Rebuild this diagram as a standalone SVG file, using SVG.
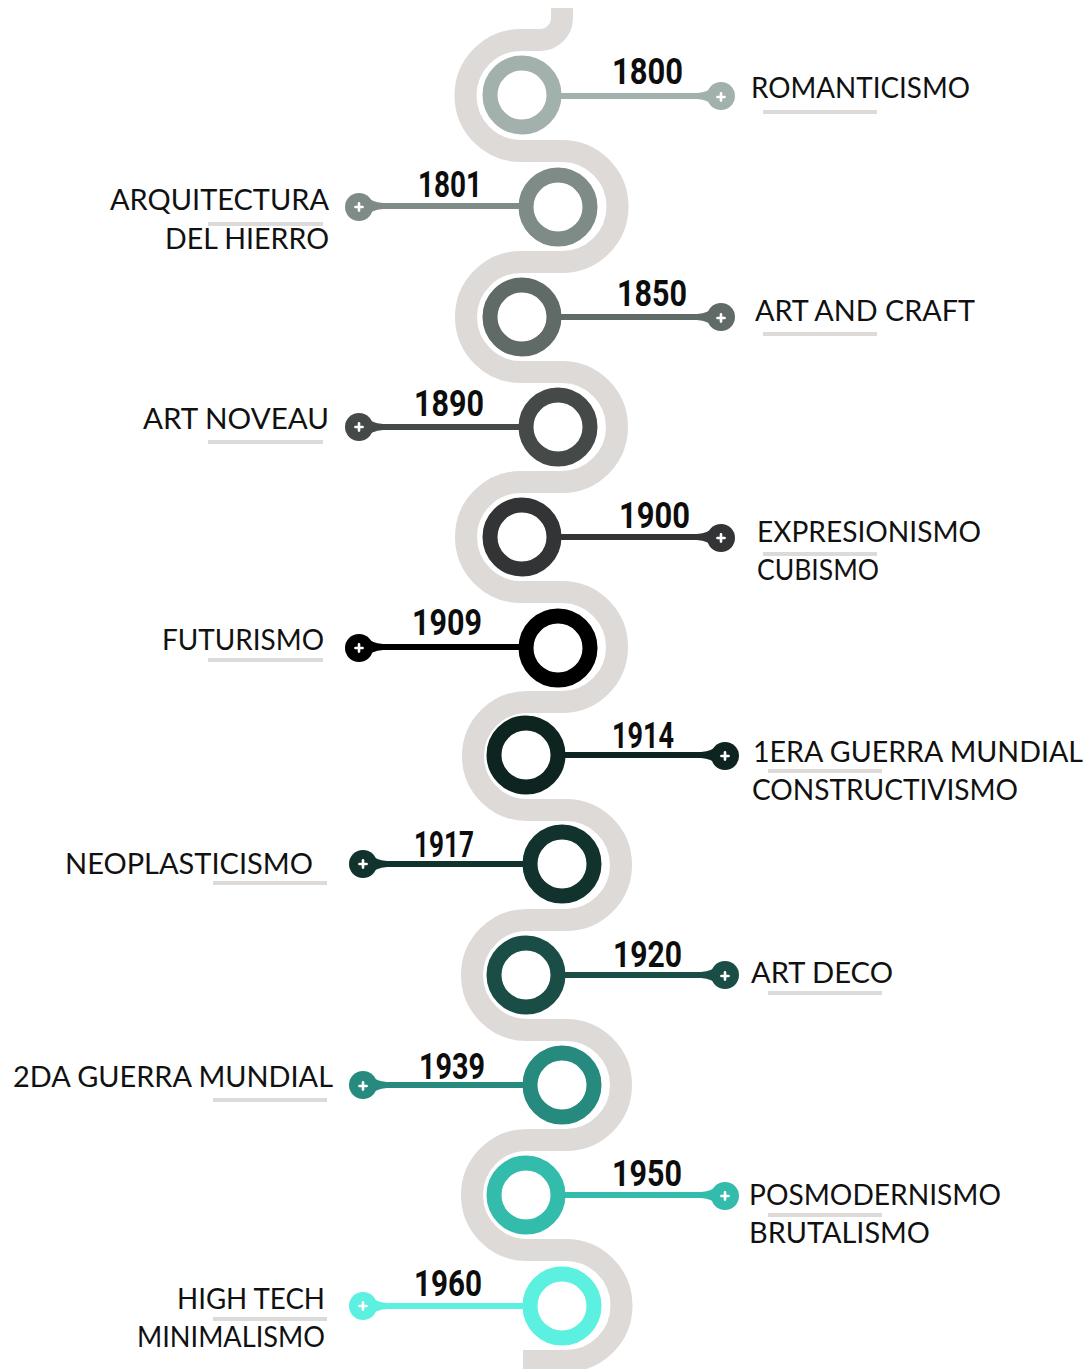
<svg xmlns="http://www.w3.org/2000/svg" width="1090" height="1369" viewBox="0 0 1090 1369">
<style>
.track{fill:none;stroke:#dedad8;stroke-width:22;stroke-linejoin:round}
.ring{fill:none;stroke-width:15}
.yr{font-family:Roboto,"Liberation Sans",sans-serif;font-weight:700;font-size:37px;fill:#0d0d0d}
.lb{font-family:Lato,"Noto Sans",sans-serif;font-size:28px;fill:#111}
.ul{fill:#dedad8}
.ln{stroke-width:6;fill:none}
.plus{stroke:#fff;stroke-width:2.6;stroke-linecap:round}
</style>
<defs>
<g id="pl"><line class="plus" x1="-3.6" y1="0" x2="3.6" y2="0"/><line class="plus" x1="0" y1="-3.6" x2="0" y2="3.6"/></g>
</defs>
<rect width="1090" height="1369" fill="#fff"/>
<g id="track">
<path class="track" d="M 562 8 L 562 18 A 22 22 0 0 1 540 40 L 521 40 A 55.5 55.5 0 0 0 521 151 L 562 151 A 55.5 55.5 0 0 1 562 262 L 521 262 A 55 55 0 0 0 521 372 L 562 372 A 55 55 0 0 1 562 482 L 521 482 A 55 55 0 0 0 521 592 L 562 592 A 55 55 0 0 1 562 702 L 527 702 A 54 54 0 0 0 527 810 L 566 810 A 55 55 0 0 1 566 920 L 527 920 A 55 55 0 0 0 527 1030 L 566 1030 A 55 55 0 0 1 566 1140 L 527 1140 A 55 55 0 0 0 527 1250 L 566 1250 A 55.5 55.5 0 0 1 566 1361 L 523 1361"/>
</g>
<g id="connectors">
<line class="ln" stroke="#a3b1ad" x1="550" y1="96" x2="710" y2="96"/>
<path fill="#a3b1ad" d="M 697 93 Q 709 92 713 86 L 713 106 Q 709 100 697 99 Z"/>
<line class="ln" stroke="#7e8b87" x1="370" y1="206" x2="530" y2="206"/>
<path fill="#7e8b87" d="M 383 203 Q 371 202 367 196 L 367 216 Q 371 210 383 209 Z"/>
<line class="ln" stroke="#606a67" x1="550" y1="317" x2="710" y2="317"/>
<path fill="#606a67" d="M 697 314 Q 709 313 713 307 L 713 327 Q 709 321 697 320 Z"/>
<line class="ln" stroke="#454a49" x1="370" y1="427" x2="530" y2="427"/>
<path fill="#454a49" d="M 383 424 Q 371 423 367 417 L 367 437 Q 371 431 383 430 Z"/>
<line class="ln" stroke="#323436" x1="550" y1="537" x2="710" y2="537"/>
<path fill="#323436" d="M 697 534 Q 709 533 713 527 L 713 547 Q 709 541 697 540 Z"/>
<line class="ln" stroke="#000" x1="370" y1="647" x2="530" y2="647"/>
<path fill="#000" d="M 383 644 Q 371 643 367 637 L 367 657 Q 371 651 383 650 Z"/>
<line class="ln" stroke="#0e2420" x1="554" y1="755" x2="714" y2="755"/>
<path fill="#0e2420" d="M 701 752 Q 713 751 717 745 L 717 765 Q 713 759 701 758 Z"/>
<line class="ln" stroke="#11322d" x1="374" y1="864" x2="534" y2="864"/>
<path fill="#11322d" d="M 387 861 Q 375 860 371 854 L 371 874 Q 375 868 387 867 Z"/>
<line class="ln" stroke="#1a4d46" x1="554" y1="975" x2="714" y2="975"/>
<path fill="#1a4d46" d="M 701 972 Q 713 971 717 965 L 717 985 Q 713 979 701 978 Z"/>
<line class="ln" stroke="#268b7e" x1="374" y1="1085" x2="534" y2="1085"/>
<path fill="#268b7e" d="M 387 1082 Q 375 1081 371 1075 L 371 1095 Q 375 1089 387 1088 Z"/>
<line class="ln" stroke="#33bcab" x1="554" y1="1195" x2="714" y2="1195"/>
<path fill="#33bcab" d="M 701 1192 Q 713 1191 717 1185 L 717 1205 Q 713 1199 701 1198 Z"/>
<line class="ln" stroke="#5cf0e1" x1="374" y1="1306" x2="534" y2="1306"/>
<path fill="#5cf0e1" d="M 387 1303 Q 375 1302 371 1296 L 371 1316 Q 375 1310 387 1309 Z"/>
</g>
<g id="n1800">
<circle class="ring" stroke="#a3b1ad" cx="522" cy="95" r="32"/>
<circle fill="#a3b1ad" cx="721" cy="96" r="14"/><use href="#pl" x="721" y="97"/>
<text class="yr" x="612" y="84" textLength="71" lengthAdjust="spacingAndGlyphs">1800</text>
<rect class="ul" x="763" y="110" width="114" height="4"/>
<text class="lb" x="751" y="98" textLength="219" lengthAdjust="spacingAndGlyphs">ROMANTICISMO</text>
</g>
<g id="n1801">
<circle class="ring" stroke="#7e8b87" cx="558" cy="207" r="32"/>
<circle fill="#7e8b87" cx="359" cy="207" r="14"/><use href="#pl" x="359" y="207"/>
<text class="yr" x="418" y="197" textLength="64" lengthAdjust="spacingAndGlyphs">1801</text>
<rect class="ul" x="208" y="222" width="115" height="4"/>
<text class="lb" x="110" y="210" textLength="219" lengthAdjust="spacingAndGlyphs">ARQUITECTURA</text>
<text class="lb" x="165" y="249" textLength="164" lengthAdjust="spacingAndGlyphs">DEL HIERRO</text>
</g>
<g id="n1850">
<circle class="ring" stroke="#606a67" cx="522" cy="317" r="32"/>
<circle fill="#606a67" cx="721" cy="317" r="14"/><use href="#pl" x="721" y="318"/>
<text class="yr" x="617" y="306" textLength="70" lengthAdjust="spacingAndGlyphs">1850</text>
<rect class="ul" x="763" y="332" width="114" height="4"/>
<text class="lb" x="755" y="321" textLength="220" lengthAdjust="spacingAndGlyphs">ART AND CRAFT</text>
</g>
<g id="n1890">
<circle class="ring" stroke="#454a49" cx="558" cy="427" r="32"/>
<circle fill="#454a49" cx="359" cy="427" r="14"/><use href="#pl" x="359" y="427"/>
<text class="yr" x="414" y="416" textLength="70" lengthAdjust="spacingAndGlyphs">1890</text>
<rect class="ul" x="208" y="440" width="115" height="4"/>
<text class="lb" x="143" y="429" textLength="186" lengthAdjust="spacingAndGlyphs">ART NOVEAU</text>
</g>
<g id="n1900">
<circle class="ring" stroke="#323436" cx="522" cy="537" r="32"/>
<circle fill="#323436" cx="721" cy="538" r="14"/><use href="#pl" x="721" y="538"/>
<text class="yr" x="619" y="528" textLength="71" lengthAdjust="spacingAndGlyphs">1900</text>
<rect class="ul" x="763" y="552" width="114" height="4"/>
<text class="lb" x="757" y="542" textLength="224" lengthAdjust="spacingAndGlyphs">EXPRESIONISMO</text>
<text class="lb" x="757" y="580" textLength="122" lengthAdjust="spacingAndGlyphs">CUBISMO</text>
</g>
<g id="n1909">
<circle class="ring" stroke="#000" cx="558" cy="648" r="32"/>
<circle fill="#000" cx="359" cy="648" r="14"/><use href="#pl" x="359" y="648"/>
<text class="yr" x="412" y="635" textLength="70" lengthAdjust="spacingAndGlyphs">1909</text>
<rect class="ul" x="208" y="658" width="115" height="4"/>
<text class="lb" x="162" y="650" textLength="162" lengthAdjust="spacingAndGlyphs">FUTURISMO</text>
</g>
<g id="n1914">
<circle class="ring" stroke="#0e2420" cx="526" cy="755" r="32"/>
<circle fill="#0e2420" cx="725" cy="756" r="14"/><use href="#pl" x="725" y="756"/>
<text class="yr" x="612" y="748" textLength="62" lengthAdjust="spacingAndGlyphs">1914</text>
<rect class="ul" x="768" y="769" width="114" height="4"/>
<text class="lb" x="753" y="762" textLength="330" lengthAdjust="spacingAndGlyphs">1ERA GUERRA MUNDIAL</text>
<text class="lb" x="752" y="800" textLength="266" lengthAdjust="spacingAndGlyphs">CONSTRUCTIVISMO</text>
</g>
<g id="n1917">
<circle class="ring" stroke="#11322d" cx="562" cy="864" r="32"/>
<circle fill="#11322d" cx="363" cy="864" r="14"/><use href="#pl" x="363" y="864"/>
<text class="yr" x="414" y="857" textLength="60" lengthAdjust="spacingAndGlyphs">1917</text>
<rect class="ul" x="213" y="881" width="114" height="4"/>
<text class="lb" x="65" y="874" textLength="248" lengthAdjust="spacingAndGlyphs">NEOPLASTICISMO</text>
</g>
<g id="n1920">
<circle class="ring" stroke="#1a4d46" cx="526" cy="975" r="32"/>
<circle fill="#1a4d46" cx="725" cy="975" r="14"/><use href="#pl" x="725" y="976"/>
<text class="yr" x="613" y="967" textLength="69" lengthAdjust="spacingAndGlyphs">1920</text>
<rect class="ul" x="768" y="991" width="114" height="4"/>
<text class="lb" x="751" y="983" textLength="142" lengthAdjust="spacingAndGlyphs">ART DECO</text>
</g>
<g id="n1939">
<circle class="ring" stroke="#268b7e" cx="562" cy="1085" r="32"/>
<circle fill="#268b7e" cx="363" cy="1085" r="14"/><use href="#pl" x="363" y="1086"/>
<text class="yr" x="419" y="1079" textLength="66" lengthAdjust="spacingAndGlyphs">1939</text>
<rect class="ul" x="213" y="1098" width="114" height="4"/>
<text class="lb" x="13" y="1087" textLength="320" lengthAdjust="spacingAndGlyphs">2DA GUERRA MUNDIAL</text>
</g>
<g id="n1950">
<circle class="ring" stroke="#33bcab" cx="526" cy="1195" r="32"/>
<circle fill="#33bcab" cx="725" cy="1196" r="14"/><use href="#pl" x="725" y="1196"/>
<text class="yr" x="612" y="1186" textLength="70" lengthAdjust="spacingAndGlyphs">1950</text>
<rect class="ul" x="768" y="1213" width="114" height="4"/>
<text class="lb" x="749" y="1205" textLength="252" lengthAdjust="spacingAndGlyphs">POSMODERNISMO</text>
<text class="lb" x="749" y="1243" textLength="181" lengthAdjust="spacingAndGlyphs">BRUTALISMO</text>
</g>
<g id="n1960">
<circle class="ring" stroke="#5cf0e1" cx="562" cy="1306" r="32"/>
<circle fill="#5cf0e1" cx="363" cy="1306" r="14"/><use href="#pl" x="363" y="1306"/>
<text class="yr" x="414" y="1296" textLength="68" lengthAdjust="spacingAndGlyphs">1960</text>
<rect class="ul" x="213" y="1317" width="114" height="4"/>
<text class="lb" x="177" y="1309" textLength="148" lengthAdjust="spacingAndGlyphs">HIGH TECH</text>
<text class="lb" x="137" y="1347" textLength="188" lengthAdjust="spacingAndGlyphs">MINIMALISMO</text>
</g>
</svg>
